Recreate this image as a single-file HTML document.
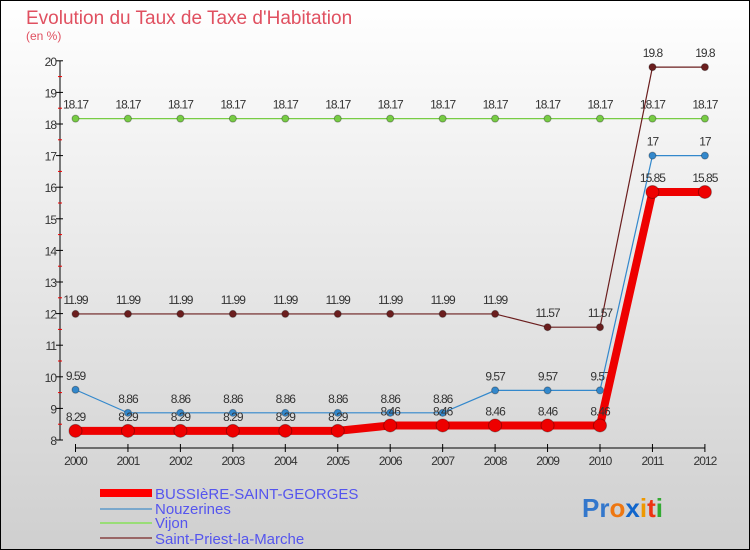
<!DOCTYPE html>
<html><head><meta charset="utf-8"><style>
body{margin:0;width:750px;height:550px;overflow:hidden;font-family:"Liberation Sans",sans-serif}
#c{position:absolute;left:0;top:0;width:748px;height:548px;border:1px solid #000;background:linear-gradient(#fff,#cfcfcf)}
</style></head><body>
<div id="c">
<svg id="s" width="750" height="550" style="position:absolute;left:-1px;top:-1px">
<text x="26" y="24" font-size="19" fill="#e05060">Evolution du Taux de Taxe d'Habitation</text>
<text x="26" y="40" font-size="12" fill="#e05060">(en %)</text>
<g id="ax"></g><g id="ser"></g>
<g>
<rect x="100" y="489" width="52" height="8" fill="#f00"/>
<text x="155" y="499" font-size="15" fill="#5555ee">BUSSIèRE-SAINT-GEORGES</text>
<line x1="100" y1="509" x2="152" y2="509" stroke="#7aa8cc" stroke-width="2"/>
<text x="155" y="514" font-size="15" fill="#5555ee">Nouzerines</text>
<line x1="100" y1="523" x2="152" y2="523" stroke="#99dd77" stroke-width="2"/>
<text x="155" y="528" font-size="15" fill="#5555ee">Vijon</text>
<line x1="100" y1="538" x2="152" y2="538" stroke="#996666" stroke-width="2"/>
<text x="155" y="544" font-size="15" fill="#5555ee">Saint-Priest-la-Marche</text>
</g>
<text x="582" y="517" font-size="26" font-weight="bold"><tspan fill="#3377cc">Pr</tspan><tspan fill="#ee7711">o</tspan><tspan fill="#1166cc">x</tspan><tspan fill="#ee9900">i</tspan><tspan fill="#ee3311">t</tspan><tspan fill="#33aa33">i</tspan></text>
</svg></div>
<script>
const years=[2000,2001,2002,2003,2004,2005,2006,2007,2008,2009,2010,2011,2012];
const bussiere=[8.29,8.29,8.29,8.29,8.29,8.29,8.46,8.46,8.46,8.46,8.46,15.85,15.85];
const nouzerines=[9.59,8.86,8.86,8.86,8.86,8.86,8.86,8.86,9.57,9.57,9.57,17,17];
const vijon=[18.17,18.17,18.17,18.17,18.17,18.17,18.17,18.17,18.17,18.17,18.17,18.17,18.17];
const stpriest=[11.99,11.99,11.99,11.99,11.99,11.99,11.99,11.99,11.99,11.57,11.57,19.8,19.8];
const yTicks=[8,9,10,11,12,13,14,15,16,17,18,19,20];
const NS='http://www.w3.org/2000/svg';
const X=i=>75.5+i*52.45, Y=v=>440-(v-8)*31.6;
function mk(t,a,p){const e=document.createElementNS(NS,t);for(const k in a)e.setAttribute(k,a[k]);p.appendChild(e);return e;}
const ax=document.getElementById('ax'),ser=document.getElementById('ser');
let l=mk('line',{x1:60,y1:Y(20),x2:60,y2:Y(8),stroke:'#000'},ax);


yTicks.forEach(v=>{mk('line',{x1:56,y1:Y(v),x2:63,y2:Y(v),stroke:'#000'},ax);
 if(v<20)mk('line',{x1:58,y1:Y(v+0.5),x2:62,y2:Y(v+0.5),stroke:'#e00'},ax);
 const t=mk('text',{x:56,y:Y(v)+5,'font-size':12,fill:'#333','text-anchor':'end','letter-spacing':'-1'},ax);t.textContent=v;
 
 });
l=mk('line',{x1:X(0),y1:448,x2:X(12),y2:448,stroke:'#000'},ax);


years.forEach((y,i)=>{mk('line',{x1:X(i),y1:444,x2:X(i),y2:452,stroke:'#000'},ax);
 const t=mk('text',{x:X(i),y:465,'font-size':12,fill:'#333','text-anchor':'middle','letter-spacing':'-1'},ax);t.textContent=y;
 
 });
function draw(d,col,w,r,name){
 const g=mk('g',{},ser);
 
 
 mk('polyline',{points:d.map((v,i)=>X(i)+','+Y(v)).join(' '),fill:'none',stroke:col,'stroke-width':w},g);
 d.forEach((v,i)=>{const c=mk('circle',{cx:X(i),cy:Y(v),r:r,fill:col,stroke:'rgba(0,0,0,0.3)'},g);
  
  
  const t=mk('text',{x:X(i),y:Y(v)-10,'font-size':12,fill:'#333','text-anchor':'middle','letter-spacing':'-1'},g);t.textContent=v;});
}
draw(vijon,'#77cc44',1.2,3.5,'vijon');
draw(stpriest,'#6b1e1e',1.2,3.5,'saint-priest');
draw(nouzerines,'#3388cc',1.2,3.5,'nouzerines');
draw(bussiere,'#ee0000',8,6.5,'bussiere');
</script></body></html>
